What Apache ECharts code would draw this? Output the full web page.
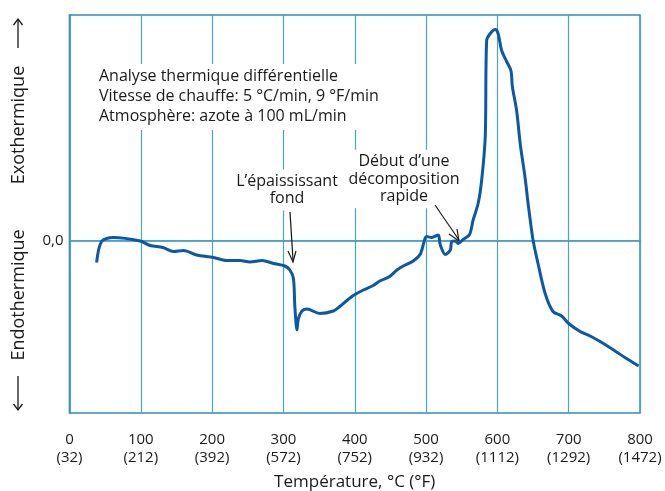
<!DOCTYPE html>
<html>
<head>
<meta charset="utf-8">
<script src="https://cdn.jsdelivr.net/npm/echarts@6/dist/echarts.min.js"></script>
<style>
  html, body { margin: 0; padding: 0; background: #fff; }
  #chart { width: 665px; height: 491px; }
</style>
</head>
<body>
<div id="chart"></div>
<script>
// temperature in °C, signal in arbitrary units (0 = baseline)
var tempC = [38, 45, 61, 99, 113, 131, 146, 160, 178, 202, 220, 239, 253, 270, 286, 302, 309, 314, 316, 319, 321, 326, 333, 351, 370, 379, 389, 398, 412, 426, 435, 449, 459, 468, 482, 492, 501, 508, 517, 520, 527, 534, 536, 541, 545, 552, 561, 566, 573, 578, 583, 585, 590, 597, 601, 606, 613, 619, 621, 627, 632, 639, 643, 650, 657, 667, 678, 690, 700, 716, 730, 744, 763, 781, 798];
var signal = [-2.2, -0.1, 0.3, -0.05, -0.5, -0.7, -1.1, -1.0, -1.45, -1.7, -2.0, -2.0, -2.15, -2.0, -2.3, -2.55, -2.95, -3.8, -6.6, -8.95, -7.8, -7.05, -6.85, -7.3, -7.05, -6.6, -6.0, -5.5, -4.95, -4.5, -4.05, -3.6, -2.95, -2.55, -2.05, -1.35, 0.4, 0.3, 0.55, -0.45, -1.4, -0.95, -0.1, -0.05, -0.3, 0.1, 0.6, 2.05, 3.7, 6.05, 10.4, 20.0, 20.7, 21.1, 20.7, 19.0, 17.9, 17.0, 15.4, 13.0, 9.7, 6.2, 3.75, 0.05, -2.3, -5.3, -7.1, -7.55, -8.3, -9.1, -9.55, -10.1, -10.95, -11.8, -12.55];
var xTicks = [0, 100, 200, 300, 400, 500, 600, 700, 800];

var font = 'Open Sans';
var textColor = '#1a1a1a';
var gridColor = '#4ba3c8';
var lineColor = '#0b58a6';

var points = tempC.map(function (t, i) { return [t, signal[i]]; });

var myChart = echarts.init(document.getElementById('chart'));
var option = {
    animation: false,
    grid: {
        left: 69.5, right: 25, top: 15, bottom: 78,
        outerBoundsMode: 'none',
        show: true,
        borderColor: '#2f8cbd',
        borderWidth: 1.5
    },
    xAxis: {
        type: 'value',
        min: 0, max: 800, interval: 100,
        name: 'Température, °C (°F)',
        nameLocation: 'middle',
        nameGap: 61,
        nameTextStyle: { fontFamily: font, fontSize: 17, color: textColor },
        axisLine: { show: true, lineStyle: { color: '#2f8cbd', width: 1.5 } },
        axisTick: { show: false },
        axisLabel: {
            margin: 18,
            fontFamily: font, fontSize: 15, color: textColor, lineHeight: 18,
            formatter: function (v) {
                if (xTicks.indexOf(v) < 0) return '';
                return v + '\n(' + Math.round(v * 9 / 5 + 32) + ')';
            }
        },
        splitLine: { show: true, lineStyle: { color: gridColor, width: 1.2 } }
    },
    yAxis: {
        type: 'value',
        min: -17.25, max: 22.55,
        axisLine: { show: true, lineStyle: { color: '#2f8cbd', width: 1.5 } },
        axisTick: { show: false },
        axisLabel: { show: false },
        splitLine: { show: false }
    },
    series: [{
        type: 'line',
        data: points,
        smooth: 0.3,
        showSymbol: false,
        lineStyle: { color: lineColor, width: 3 },
        z: 5,
        markLine: {
            silent: true,
            symbol: 'none',
            z: 1,
            lineStyle: { color: gridColor, width: 1.2, type: 'solid' },
            label: {
                position: 'start', distance: 6, formatter: '0,0',
                fontFamily: font, fontSize: 15, color: textColor
            },
            data: [{ yAxis: 0 }]
        }
    }],
    graphic: [
        {
            type: 'text', left: 95, top: 64, z: 3,
            style: {
                text: 'Analyse thermique différentielle\nVitesse de chauffe: 5 °C/min, 9 °F/min\nAtmosphère: azote à 100 mL/min',
                fontFamily: font, fontSize: 16, lineHeight: 20, fill: textColor,
                backgroundColor: '#fff', padding: [2, 4, 4, 4]
            }
        },
        {
            type: 'text', x: 287, y: 190, z: 3,
            style: {
                text: 'L’épaississant\nfond',
                align: 'center', verticalAlign: 'middle',
                fontFamily: font, fontSize: 16, lineHeight: 17.5, fill: textColor,
                backgroundColor: '#fff', padding: [3, 3, 3, 3]
            }
        },
        {
            type: 'text', x: 404, y: 179, z: 3,
            style: {
                text: 'Début d’une\ndécomposition\nrapide',
                align: 'center', verticalAlign: 'middle',
                fontFamily: font, fontSize: 16, lineHeight: 17.5, fill: textColor,
                backgroundColor: '#fff', padding: [3, 3, 3, 3]
            }
        },
        {
            type: 'text', x: 19, y: 125, rotation: Math.PI / 2, z: 3,
            style: {
                text: 'Exothermique',
                align: 'center', verticalAlign: 'middle',
                fontFamily: font, fontSize: 18, fill: textColor
            }
        },
        {
            type: 'text', x: 19, y: 295, rotation: Math.PI / 2, z: 3,
            style: {
                text: 'Endothermique',
                align: 'center', verticalAlign: 'middle',
                fontFamily: font, fontSize: 18, fill: textColor
            }
        },
        // side arrows
        {
            type: 'polyline', z: 4,
            shape: { points: [[18, 48], [18, 19]] },
            style: { stroke: textColor, lineWidth: 1.3, fill: null }
        },
        {
            type: 'polyline', z: 4,
            shape: { points: [[13.5, 25], [18, 19], [22.5, 25]] },
            style: { stroke: textColor, lineWidth: 1.3, fill: null }
        },
        {
            type: 'polyline', z: 4,
            shape: { points: [[18, 376], [18, 410]] },
            style: { stroke: textColor, lineWidth: 1.3, fill: null }
        },
        {
            type: 'polyline', z: 4,
            shape: { points: [[13.5, 404], [18, 410], [22.5, 404]] },
            style: { stroke: textColor, lineWidth: 1.3, fill: null }
        },
        // annotation arrows
        {
            type: 'line', z: 4,
            shape: { x1: 290, y1: 212, x2: 293, y2: 260 },
            style: { stroke: textColor, lineWidth: 1.2 }
        },
        {
            type: 'polyline', z: 4,
            shape: { points: [[288, 251], [293, 262], [296, 251]] },
            style: { stroke: textColor, lineWidth: 1.2, fill: null }
        },
        {
            type: 'line', z: 4,
            shape: { x1: 435, y1: 205, x2: 459, y2: 240 },
            style: { stroke: textColor, lineWidth: 1.2 }
        },
        {
            type: 'polyline', z: 4,
            shape: { points: [[449, 234], [459, 241], [457, 229]] },
            style: { stroke: textColor, lineWidth: 1.2, fill: null }
        }
    ]
};
myChart.setOption(option);
</script>
</body>
</html>
